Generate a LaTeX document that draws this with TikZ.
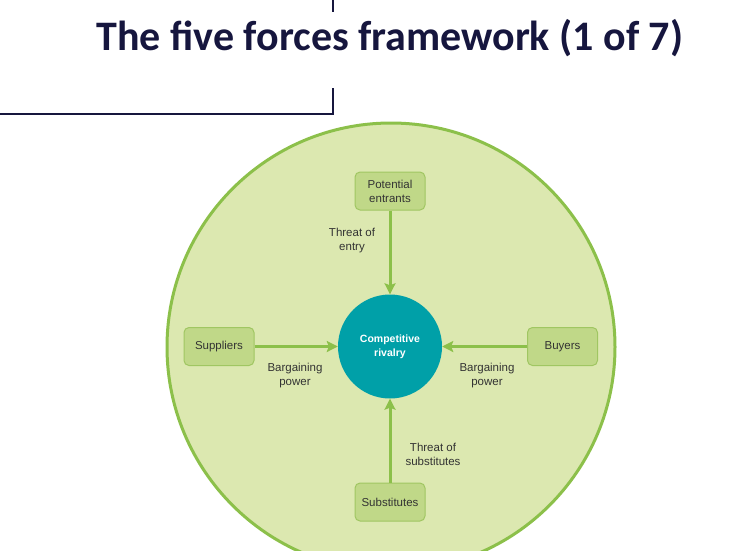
\documentclass[tikz,border=0pt]{standalone}
\usepackage{fontspec}
\setmainfont{Liberation Sans}
\newfontfamily\titlefont{Carlito}
\usetikzlibrary{arrows.meta,positioning}

\definecolor{navy}{RGB}{22,22,62}
\definecolor{ringgreen}{RGB}{140,192,74}
\definecolor{discgreen}{RGB}{220,232,176}
\definecolor{boxgreen}{RGB}{192,216,136}
\definecolor{boxedge}{RGB}{160,198,98}
\definecolor{rivalteal}{RGB}{0,160,168}
\definecolor{labelgray}{RGB}{51,51,51}

\tikzset{
  forcebox/.style={draw=boxedge, fill=boxgreen, line width=1pt, rounded corners=5pt,
    minimum width=70pt, minimum height=38pt, align=center, font=\fontsize{11.5}{14}\selectfont,
    text=labelgray},
  forcelabel/.style={align=center, font=\fontsize{11.5}{14}\selectfont, text=labelgray},
  force/.style={draw=ringgreen, line width=3pt, -{Stealth[length=11pt,width=11pt,inset=2pt]}}
}

\begin{document}
\begin{tikzpicture}[x=1pt, y=-1pt]
  % page size of the slide
  \useasboundingbox (0,0) rectangle (736,550);
  \clip (0,0) rectangle (736,550);
  % Title and the slide rules
  \node[font=\titlefont\bfseries\fontsize{42}{46}\selectfont, text=navy] (title) at (390,38)
    {The five forces framework (1 of 7)};
  \draw[navy, line width=1.5pt] (333,0) -- (333,12);
  \draw[navy, line width=1.5pt] (333,88) -- (333,114) -- (0,114);
  % Industry disc
  \fill[discgreen] (391,347) circle (224);
  \draw[ringgreen, line width=3pt] (391,347) circle (224);
  % Centre: competitive rivalry
  \node[circle, fill=rivalteal, minimum size=104pt, align=center, text=white,
    font=\bfseries\fontsize{10.5}{14}\selectfont] (rivalry) at (390,346.5)
    {Competitive\\rivalry};
  % The four outside forces
  \node[forcebox] (entrants) at (390,191) {Potential\\entrants};
  \node[forcebox] (suppliers) at (219,346.5) {Suppliers};
  \node[forcebox] (buyers) at (562.5,346.5) {Buyers};
  \node[forcebox] (substitutes) at (390,502) {Substitutes};
  % Arrows into the centre
  \foreach \f in {entrants,suppliers,buyers,substitutes} {
    \draw[force] (\f) -- (rivalry);
  }
  % Arrow labels
  \node[forcelabel] (entrylabel) at (352,241) {Threat of\\entry};
  \node[forcelabel] (supplierlabel) at (295,376) {Bargaining\\power};
  \node[forcelabel] (buyerlabel) at (487,376) {Bargaining\\power};
  \node[forcelabel] (substitutelabel) at (433,454) {Threat of\\substitutes};
\end{tikzpicture}
\end{document}
